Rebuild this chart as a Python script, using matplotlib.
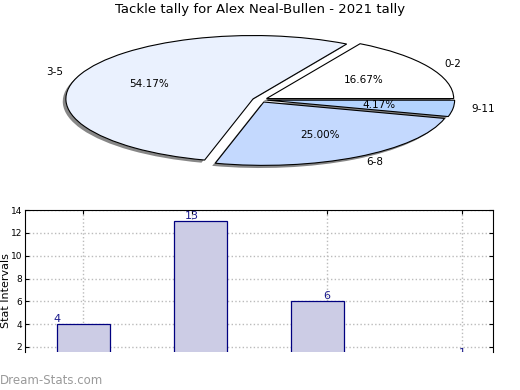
import numpy as np
import matplotlib
matplotlib.use("Agg")
import matplotlib.pyplot as plt

title = "Tackle tally for Alex Neal-Bullen - 2021 tally"
intervals = ["0-2", "3-5", "6-8", "9-11"]
counts = [4, 13, 6, 1]
pie_colors = ["#FFFFFF", "#EAF1FE", "#C4D9FE", "#B4D4FF"]

fig = plt.figure(figsize=(5.2, 3.9), dpi=100)

# pie on top, stretched (not equal aspect) like the old renderer
ax1 = fig.add_axes([0.05, 0.541, 0.9, 0.406])
ax1.pie(counts, labels=intervals, colors=pie_colors, explode=[0.04] * 4,
        autopct="%.2f%%", startangle=0,
        shadow=dict(ox=-0.012, oy=-0.03, facecolor="#7a7a7a", edgecolor="none", alpha=0.9),
        wedgeprops=dict(edgecolor="black", linewidth=0.8),
        textprops=dict(fontsize=7.5))
ax1.set_aspect("auto")
ax1.set_xlim(-1.25, 1.25)
ax1.set_ylim(-1.25, 1.25)
fig.text(0.5, 0.975, title, ha="center", va="center", fontsize=9.5)

# bar chart below, bottom part cut off
ax2 = fig.add_axes([0.048, 0.0974, 0.9, 0.364])
x = np.arange(len(counts)) + 0.5
ax2.bar(x, counts, width=0.45, color="#CCCCE5", edgecolor="#000080", linewidth=0.9)
lab_x = 0.274 + 1.154 * np.arange(len(counts))
for lx, v in zip(lab_x, counts):
    ax2.text(lx, v, str(v), ha="center", va="bottom", fontsize=8,
             color="#1a1a8c", clip_on=True)
ax2.set_xlim(0, 4)
ax2.set_ylim(1.56, 14)
ax2.set_yticks(range(2, 15, 2))
ax2.set_xticks([x[0]] + list(lab_x[1:]))
ax2.set_xticklabels([])
ax2.tick_params(axis="y", labelsize=6.5, length=3, direction="in", right=True, pad=2)
ax2.tick_params(axis="x", length=3, direction="in", top=True, bottom=False)
ax2.grid(True, linestyle=":", color="#bbbbbb", linewidth=1)
ax2.set_axisbelow(True)
ax2.spines["bottom"].set_visible(False)
ax2.set_ylabel("Stat Intervals", fontsize=8)
ax2.yaxis.set_label_coords(-0.03, 0.43)

fig.text(0.0, 0.025, "Dream-Stats.com", fontsize=8.5, color="#9a9a9a",
         ha="left", va="center")

fig.savefig("out.png", dpi=100)
